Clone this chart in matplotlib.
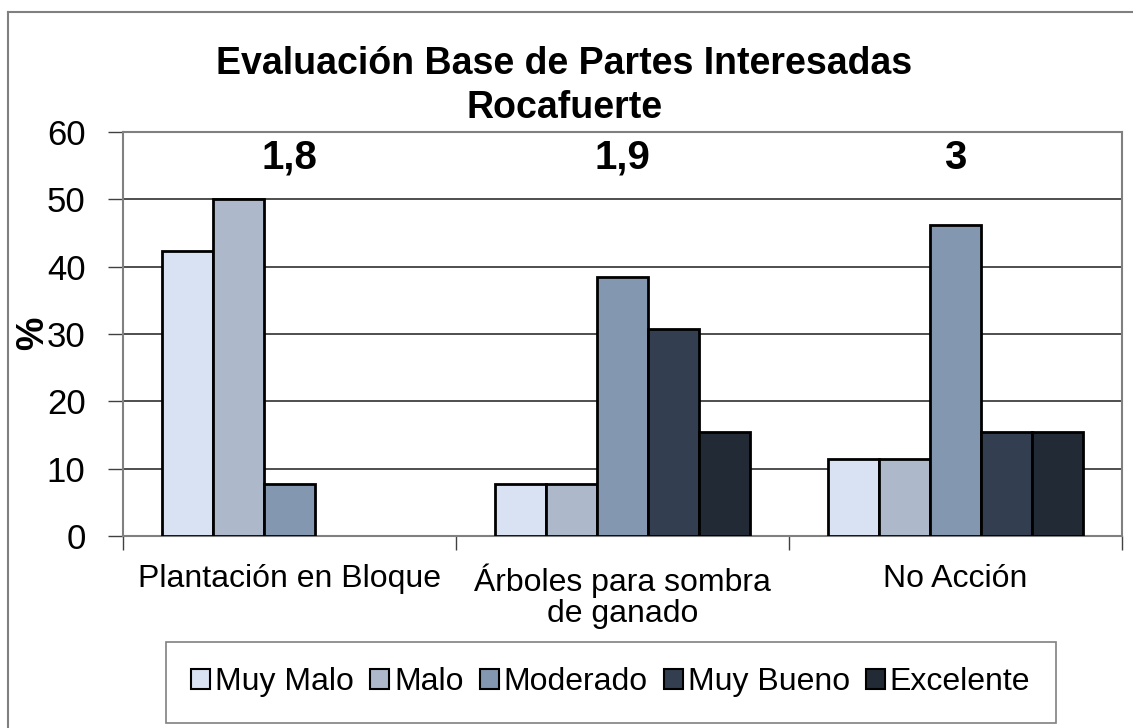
import matplotlib.pyplot as plt
import numpy as np
from matplotlib.patches import Rectangle
from matplotlib.lines import Line2D

plt.rcParams['font.family'] = ['Liberation Sans', 'DejaVu Sans']

# datos
categorias = ['Plantación en Bloque', 'Árboles para sombra\nde ganado', 'No Acción']
series = ['Muy Malo', 'Malo', 'Moderado', 'Muy Bueno', 'Excelente']
muy_malo = [42.3, 7.7, 11.5]
malo = [50.0, 7.7, 11.5]
moderado = [7.7, 38.5, 46.2]
muy_bueno = [0, 30.8, 15.4]
excelente = [0, 15.4, 15.4]
promedios = ['1,8', '1,9', '3']

valores = [muy_malo, malo, moderado, muy_bueno, excelente]
colores = ['#d9e2f2', '#adb8ca', '#8497b0', '#333f50', '#222a35']

fig = plt.figure(figsize=(11.33, 7.28), dpi=100)
ax = fig.add_axes([0.1086, 0.2637, 0.8817, 0.555])

x = np.arange(len(categorias))
ancho = 0.153
for i, (vals, col) in enumerate(zip(valores, colores)):
    lw = [2 if v > 0 else 0 for v in vals]  # barras en cero sin borde
    ax.bar(x + (i - 2) * ancho, vals, ancho, color=col, edgecolor='black',
           linewidth=lw, label=series[i], zorder=3)

for xi, p in zip(x, promedios):
    ax.text(xi, 56.2, p, ha='center', va='center', fontsize=29, fontweight='bold')

ax.set_xlim(-0.5, 2.5)
ax.set_ylim(0, 60)
ax.set_yticks(range(0, 61, 10))
ax.yaxis.grid(True, color='#404040', linewidth=1.3, zorder=0)
ax.tick_params(axis='y', labelsize=25, length=11, width=1, color='#404040', pad=16)
ax.set_xticks([-0.5, 0.5, 1.5, 2.5])
ax.set_xticklabels([])
ax.set_xticks(x, minor=True)
ax.set_xticklabels(categorias, minor=True, fontsize=23, linespacing=1.05)
ax.tick_params(axis='x', which='major', length=10, width=1, color='#404040')
ax.tick_params(axis='x', which='minor', length=0, pad=20)
for s in ax.spines.values():
    s.set_color('#808080')
    s.set_linewidth(1.5)

fig.text(0.029, 0.542, '%', rotation=90, fontsize=27, fontweight='bold',
         ha='center', va='center')
fig.text(0.498, 0.882, 'Evaluación Base de Partes Interesadas\nRocafuerte',
         ha='center', va='center', fontsize=27, fontweight='bold', linespacing=1.3)

handles = [Rectangle((0, 0), 1, 1, facecolor=c, edgecolor='black', linewidth=1.5)
           for c in colores]
leg = fig.legend(handles, series, loc='center', bbox_to_anchor=(0.539, 0.063),
                 ncol=5, fontsize=23, frameon=True, fancybox=False,
                 handlelength=0.6, handleheight=0.6, handletextpad=0.15,
                 columnspacing=0.5, borderpad=0.8, borderaxespad=0)
leg.get_frame().set_edgecolor('#606060')
leg.get_frame().set_linewidth(1.2)

# borde exterior del grafico
fig.add_artist(Line2D([8 / 1133, 8 / 1133], [0, 1 - 12 / 728], color='#808080', lw=1.5))
fig.add_artist(Line2D([8 / 1133, 1], [1 - 12 / 728, 1 - 12 / 728], color='#808080', lw=1.5))

fig.savefig('out.png', dpi=100)
